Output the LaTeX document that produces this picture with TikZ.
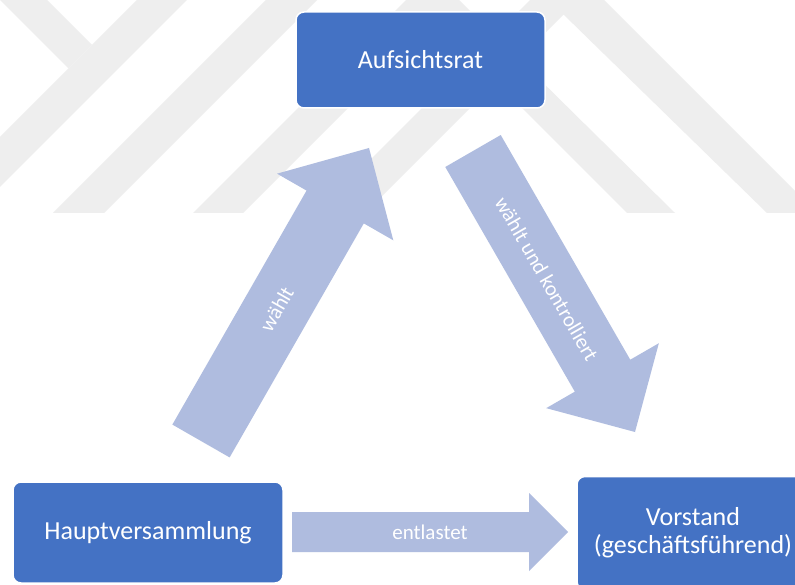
\documentclass[tikz,border=0pt]{standalone}
\usepackage{fontspec}
\setmainfont{Carlito}
\usetikzlibrary{calc}
\definecolor{boxblue}{HTML}{4472C4}
\definecolor{arrfill}{HTML}{AFBCDF}
\definecolor{wm}{HTML}{EEEEEE}
\tikzset{
  box/.style={fill=boxblue, draw=white, line width=1.5pt, rounded corners=8pt,
    text=white, font=\fontsize{26}{28}\selectfont, align=center, inner sep=0pt},
  arrlabel/.style={text=white, font=\fontsize{21}{24}\selectfont, inner sep=0pt},
  blockarrow/.style={fill=arrfill},
  watermark/.style={fill=wm},
}
% #1 tail coordinate, #2 tip coordinate, #3 shaft half width, #4 head half width, #5 head length
\newcommand\myblockarrow[5]{%
  \coordinate (#1-base) at ($(#2)!#5!(#1)$);
  \fill[blockarrow] ($(#1)!#3!90:(#2)$) -- ($(#1-base)!#3!90:(#2)$) --
    ($(#1-base)!#4!90:(#2)$) -- (#2) -- ($(#1-base)!#4!-90:(#2)$) --
    ($(#1-base)!#3!-90:(#2)$) -- ($(#1)!#3!-90:(#2)$) -- cycle;}
\begin{document}
\begin{tikzpicture}[x=1pt,y=-1pt]
\clip (0,0) rectangle (795,585);
\fill[white] (0,0) rectangle (795,585);
% faint watermark
\fill[watermark] (0,0) -- (47,0) -- (92,45) -- (68.5,68.5) -- cycle;
\fill[watermark] (137,0) -- (187,0) -- (0,187) -- (0,137) -- cycle;
\fill[watermark] (266,0) -- (317,0) -- (104,213) -- (53,213) -- cycle;
\fill[watermark] (406,0) -- (459,0) -- (675,213) -- (627,213) -- (435,21) -- (243,213) -- (193,213) -- cycle;
\fill[watermark] (530,0) -- (604,0) -- (817,213) -- (767,213) -- (563.5,14.5) -- (365,213) -- (317,213) -- cycle;
% boxes
\node[box, minimum width=249pt, minimum height=96pt] (ar) at (420.5,60) {Aufsichtsrat};
\node[box, minimum width=270pt, minimum height=101pt] (hv) at (148,532.5) {Hauptversammlung};
\node[box, minimum width=232pt, minimum height=113pt] (vs) at (693,533) {Vorstand\\(geschäftsführend)};
% block arrows
\coordinate (w1) at (201,441); \coordinate (w2) at (369,148);
\coordinate (k1) at (473,151); \coordinate (k2) at (635,432);
\coordinate (e1) at (292,532); \coordinate (e2) at (568,532);
\myblockarrow{w1}{w2}{33pt}{67pt}{68pt}
\myblockarrow{k1}{k2}{32pt}{65pt}{65pt}
\myblockarrow{e1}{e2}{20pt}{39pt}{39pt}
\node[arrlabel, rotate=60.2] (lw) at ($(w1)!0.45!(w2)$) {wählt};
\node[arrlabel, rotate=-60] (lk) at ($(k1)!0.455!(k2)$) {wählt und kontrolliert};
\node[arrlabel] (le) at ($(e1)!0.5!(e2)$) {entlastet};
\end{tikzpicture}
\end{document}
